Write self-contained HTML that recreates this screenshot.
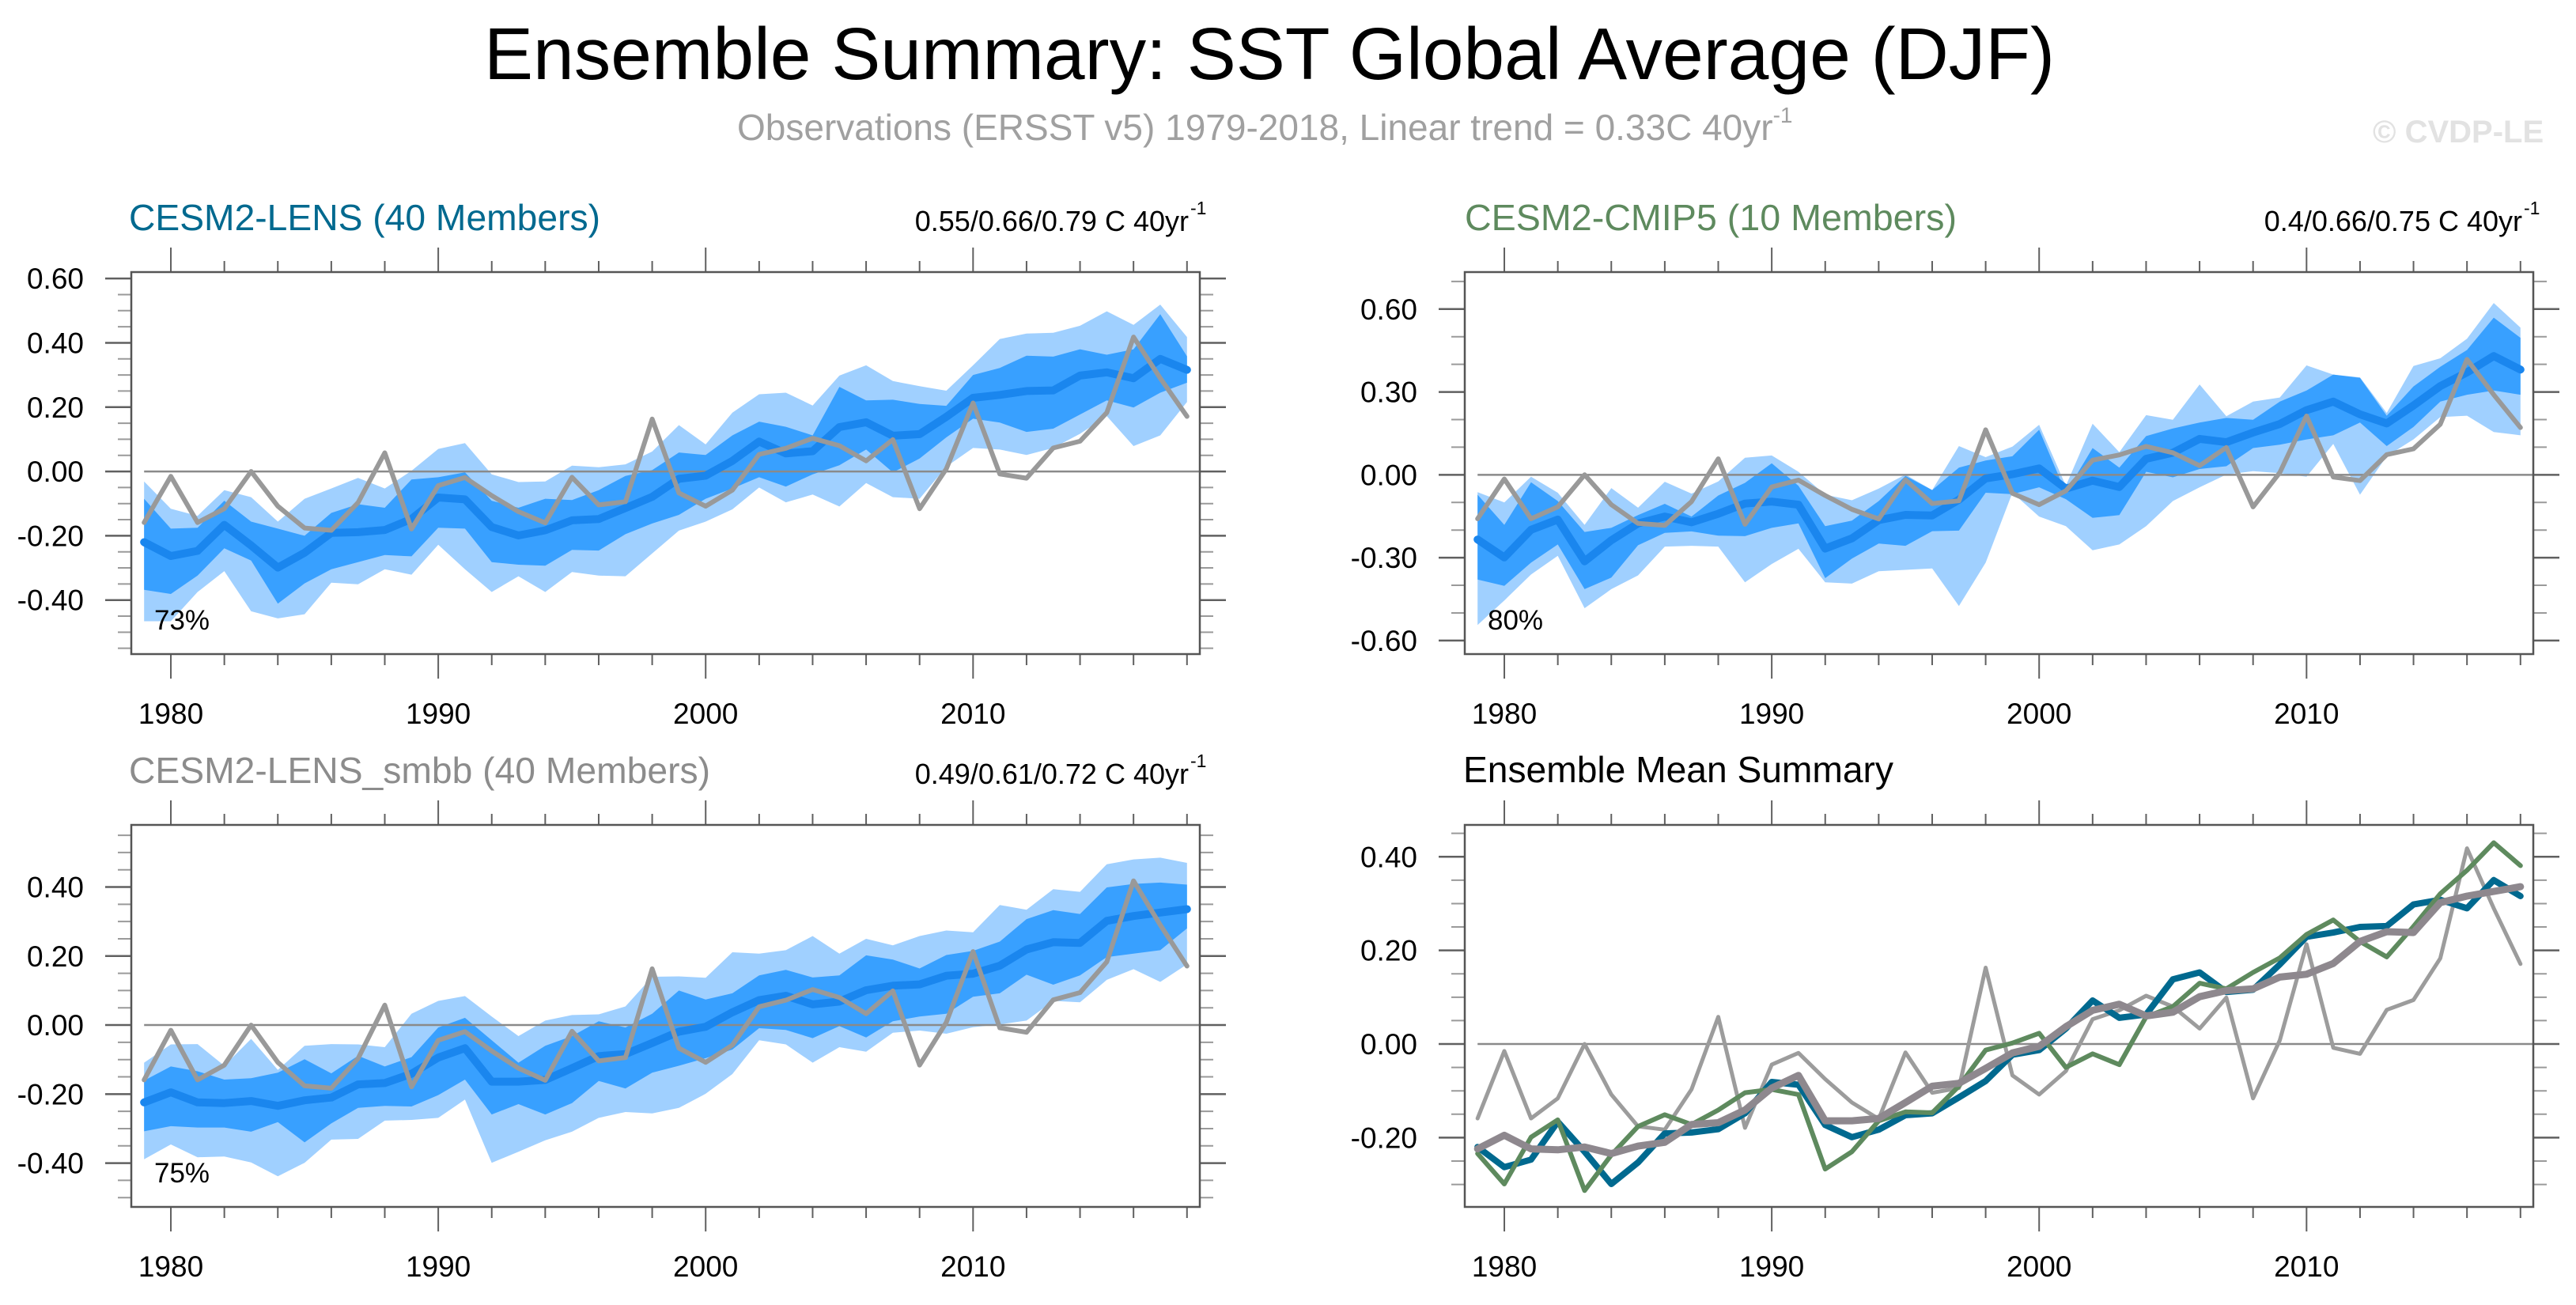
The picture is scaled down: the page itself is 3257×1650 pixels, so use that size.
<!DOCTYPE html>
<html><head><meta charset="utf-8"><style>
html,body{margin:0;padding:0;background:#fff;}
svg{display:block;font-family:"Liberation Sans",Arial,sans-serif;}
</style></head><body>
<svg id="chart" width="3257" height="1650" viewBox="0 0 3257 1650" xmlns="http://www.w3.org/2000/svg">
<rect width="3257" height="1650" fill="#fff"/>
<text x="612" y="100" font-size="93" fill="#000" textLength="1986" lengthAdjust="spacingAndGlyphs">Ensemble Summary: SST Global Average (DJF)</text>
<text x="932" y="177" font-size="46" fill="#a0a0a0">Observations (ERSST v5) 1979-2018, Linear trend = 0.33C 40yr<tspan font-size="28" dy="-22">-1</tspan></text>
<text x="3000" y="180" font-size="40" font-weight="bold" fill="#e2e2e2">© CVDP-LE</text>

<text x="163" y="291" font-size="46" fill="#00698f" textLength="596" lengthAdjust="spacingAndGlyphs">CESM2-LENS (40 Members)</text>
<text x="1503" y="292" font-size="36" fill="#000" text-anchor="end">0.55/0.66/0.79 C 40yr</text>
<text x="1505" y="271" font-size="23" fill="#000">-1</text>

<text x="1852" y="291" font-size="46" fill="#5e8a5e" textLength="622" lengthAdjust="spacingAndGlyphs">CESM2-CMIP5 (10 Members)</text>
<text x="3189" y="292" font-size="36" fill="#000" text-anchor="end">0.4/0.66/0.75 C 40yr</text>
<text x="3191" y="271" font-size="23" fill="#000">-1</text>

<text x="163" y="990" font-size="46" fill="#8c8c8c" textLength="735" lengthAdjust="spacingAndGlyphs">CESM2-LENS_smbb (40 Members)</text>
<text x="1503" y="991" font-size="36" fill="#000" text-anchor="end">0.49/0.61/0.72 C 40yr</text>
<text x="1505" y="970" font-size="23" fill="#000">-1</text>

<text x="1850" y="989" font-size="46" fill="#000" textLength="544" lengthAdjust="spacingAndGlyphs">Ensemble Mean Summary</text>

<g id="plots"></g>
</svg>
<script>
const years = [];
for (let y = 1979; y <= 2018; y++) years.push(y);
const xTickYears = [1980, 1990, 2000, 2010];

const obs = [-0.159,-0.015,-0.159,-0.116,0.0,-0.108,-0.176,-0.183,-0.097,0.058,-0.179,-0.044,-0.019,-0.075,-0.125,-0.160,-0.018,-0.104,-0.094,0.163,-0.067,-0.108,-0.058,0.053,0.072,0.103,0.080,0.033,0.099,-0.116,0.008,0.213,-0.008,-0.021,0.073,0.094,0.183,0.418,0.290,0.171];

const lensMean = [-0.220,-0.263,-0.247,-0.166,-0.230,-0.299,-0.253,-0.191,-0.189,-0.182,-0.148,-0.081,-0.087,-0.173,-0.199,-0.183,-0.152,-0.148,-0.114,-0.079,-0.023,-0.013,0.033,0.093,0.056,0.063,0.138,0.153,0.111,0.116,0.170,0.229,0.238,0.250,0.252,0.298,0.308,0.290,0.350,0.316];
const lensLightHi = [-0.031,-0.116,-0.138,-0.058,-0.080,-0.156,-0.085,-0.053,-0.020,-0.053,0.002,0.070,0.088,-0.009,-0.033,-0.031,0.018,0.013,0.022,0.062,0.144,0.084,0.183,0.240,0.245,0.205,0.298,0.330,0.281,0.265,0.251,0.330,0.412,0.429,0.431,0.453,0.498,0.456,0.519,0.418];
const lensLightLo = [-0.466,-0.466,-0.375,-0.310,-0.435,-0.457,-0.444,-0.346,-0.351,-0.304,-0.321,-0.228,-0.304,-0.375,-0.326,-0.375,-0.313,-0.324,-0.326,-0.255,-0.184,-0.156,-0.118,-0.050,-0.096,-0.072,-0.109,-0.036,-0.080,-0.085,0.015,0.073,0.068,0.051,0.073,0.117,0.172,0.079,0.112,0.216];
const lensDarkHi = [-0.085,-0.178,-0.175,-0.091,-0.156,-0.178,-0.200,-0.129,-0.102,-0.113,-0.025,-0.018,-0.003,-0.091,-0.113,-0.085,-0.089,-0.058,-0.014,0.004,0.059,0.051,0.112,0.155,0.139,0.112,0.263,0.221,0.223,0.210,0.204,0.300,0.322,0.360,0.357,0.380,0.363,0.380,0.489,0.358];
const lensDarkLo = [-0.368,-0.381,-0.324,-0.239,-0.277,-0.411,-0.348,-0.304,-0.282,-0.260,-0.264,-0.175,-0.178,-0.282,-0.290,-0.293,-0.244,-0.246,-0.195,-0.162,-0.135,-0.085,-0.053,-0.018,-0.047,-0.009,0.019,0.068,-0.003,0.040,0.106,0.164,0.152,0.123,0.133,0.177,0.221,0.199,0.245,0.276];

const cmipMean = [-0.234,-0.299,-0.199,-0.162,-0.313,-0.237,-0.176,-0.151,-0.172,-0.141,-0.104,-0.097,-0.108,-0.267,-0.230,-0.164,-0.145,-0.147,-0.090,-0.013,0.002,0.023,-0.050,-0.021,-0.044,0.058,0.080,0.130,0.118,0.153,0.184,0.234,0.265,0.219,0.186,0.251,0.321,0.371,0.430,0.381];
const cmipLightHi = [-0.063,-0.100,-0.007,-0.065,-0.181,-0.048,-0.119,-0.025,-0.068,-0.024,0.062,0.070,0.011,-0.072,-0.092,-0.050,0.001,-0.055,0.104,0.064,0.102,0.181,-0.040,0.185,0.082,0.216,0.199,0.327,0.212,0.265,0.280,0.396,0.363,0.353,0.224,0.394,0.422,0.493,0.622,0.533];
const cmipLightLo = [-0.544,-0.455,-0.361,-0.293,-0.483,-0.414,-0.364,-0.260,-0.257,-0.260,-0.389,-0.323,-0.268,-0.389,-0.394,-0.349,-0.344,-0.339,-0.475,-0.318,-0.065,-0.151,-0.186,-0.273,-0.252,-0.186,-0.095,-0.045,0.001,0.013,0.006,-0.007,0.112,-0.072,0.067,0.128,0.209,0.214,0.155,0.143];
const cmipDarkHi = [-0.072,-0.181,-0.027,-0.095,-0.207,-0.192,-0.146,-0.105,-0.151,-0.075,-0.029,0.042,-0.040,-0.186,-0.166,-0.095,-0.004,-0.055,0.026,0.052,0.067,0.163,-0.065,0.097,0.026,0.140,0.168,0.189,0.206,0.199,0.265,0.305,0.363,0.351,0.214,0.320,0.391,0.452,0.569,0.496];
const cmipDarkLo = [-0.379,-0.402,-0.318,-0.252,-0.414,-0.372,-0.255,-0.210,-0.205,-0.220,-0.222,-0.192,-0.176,-0.374,-0.303,-0.249,-0.257,-0.204,-0.202,-0.065,-0.070,-0.045,-0.088,-0.156,-0.146,0.011,-0.009,0.021,0.031,0.097,0.109,0.128,0.143,0.189,0.104,0.173,0.265,0.290,0.305,0.290];

const smbbMean = [-0.224,-0.195,-0.224,-0.226,-0.220,-0.234,-0.218,-0.210,-0.172,-0.168,-0.141,-0.094,-0.067,-0.164,-0.164,-0.159,-0.125,-0.090,-0.084,-0.052,-0.019,-0.005,0.037,0.072,0.085,0.060,0.068,0.101,0.114,0.118,0.143,0.149,0.172,0.219,0.240,0.238,0.302,0.316,0.326,0.336];
const smbbLightHi = [-0.109,-0.056,-0.055,-0.118,-0.040,-0.130,-0.060,-0.055,-0.056,-0.064,0.033,0.070,0.084,0.025,-0.032,0.013,0.029,0.031,0.054,0.140,0.141,0.137,0.211,0.207,0.217,0.258,0.207,0.250,0.231,0.258,0.274,0.269,0.348,0.334,0.394,0.386,0.466,0.480,0.485,0.470];
const smbbLightLo = [-0.389,-0.346,-0.383,-0.381,-0.398,-0.438,-0.399,-0.332,-0.330,-0.277,-0.275,-0.269,-0.216,-0.399,-0.367,-0.334,-0.309,-0.269,-0.252,-0.256,-0.240,-0.199,-0.142,-0.044,-0.056,-0.109,-0.064,-0.077,-0.022,-0.016,-0.025,-0.006,0.002,0.013,0.070,0.066,0.131,0.162,0.125,0.176];
const smbbDarkHi = [-0.161,-0.120,-0.134,-0.158,-0.154,-0.138,-0.099,-0.140,-0.089,-0.120,-0.093,-0.007,0.021,-0.044,-0.109,-0.060,-0.032,0.011,-0.007,0.033,0.100,0.074,0.092,0.144,0.160,0.138,0.144,0.202,0.190,0.164,0.203,0.215,0.242,0.307,0.333,0.322,0.399,0.409,0.413,0.407];
const smbbDarkLo = [-0.308,-0.293,-0.297,-0.297,-0.309,-0.281,-0.340,-0.285,-0.240,-0.234,-0.236,-0.203,-0.158,-0.259,-0.229,-0.259,-0.226,-0.162,-0.184,-0.138,-0.118,-0.096,-0.071,-0.009,-0.014,-0.038,-0.003,-0.036,0.011,0.025,0.033,0.082,0.092,0.146,0.117,0.144,0.197,0.207,0.217,0.280];

const p1TickValues = [-0.4,-0.2,0,0.2,0.4,0.6];
const p1TickLabels = ["-0.40","-0.20","0.00","0.20","0.40","0.60"];
const p2TickValues = [-0.6,-0.3,0,0.3,0.6];
const p2TickLabels = ["-0.60","-0.30","0.00","0.30","0.60"];
const p3TickValues = [-0.4,-0.2,0,0.2,0.4];
const p3TickLabels = ["-0.40","-0.20","0.00","0.20","0.40"];
const p4TickValues = [-0.2,0,0.2,0.4];
const p4TickLabels = ["-0.20","0.00","0.20","0.40"];

const NS = "http://www.w3.org/2000/svg";
const root = document.getElementById("plots");
function mk(tag, attrs, parent) {
  const e = document.createElementNS(NS, tag);
  for (const k in attrs) e.setAttribute(k, attrs[k]);
  (parent || root).appendChild(e);
  return e;
}

function drawPanel(cfg) {
  const g = mk("g", {});
  
  
  const w = cfg.x1 - cfg.x0;
  const xs = yr => cfg.x0 + w * (0.012 + (yr - 1979) / 39 * 0.976);
  const ys = v => cfg.y1 - (v - cfg.ymin) / (cfg.ymax - cfg.ymin) * (cfg.y1 - cfg.y0);
  const tc = "#606060";
  for (let yr = 1980; yr <= 2018; yr += 2) {
    const major = yr % 10 === 0;
    const L = major ? 31 : 14;
    const t1 = mk("line", {x1: xs(yr), x2: xs(yr), y1: cfg.y0 - L, y2: cfg.y0, stroke: tc, "stroke-width": 2}, g);
    
    
    const t2 = mk("line", {x1: xs(yr), x2: xs(yr), y1: cfg.y1, y2: cfg.y1 + L, stroke: tc, "stroke-width": 2}, g);
    
    
  }
  xTickYears.forEach(yr => {
    const t = mk("text", {x: xs(yr), y: cfg.y1 + 88, "font-size": 37, "text-anchor": "middle", fill: "#000"}, g);
    t.textContent = String(yr);
    
    
  });
  const st = cfg.minorStep;
  for (let k = Math.ceil(cfg.ymin / st - 1e-6); k <= Math.floor(cfg.ymax / st + 1e-6); k++) {
    const v = k * st;
    const isMajor = cfg.tickValues.some(m => Math.abs(m - v) < 1e-6);
    if (isMajor) continue;
    const a = mk("line", {x1: cfg.x0 - 17, x2: cfg.x0, y1: ys(v), y2: ys(v), stroke: "#9a9a9a", "stroke-width": 2}, g);
    
    
    const b = mk("line", {x1: cfg.x1, x2: cfg.x1 + 17, y1: ys(v), y2: ys(v), stroke: "#9a9a9a", "stroke-width": 2}, g);
    
    
  }
  cfg.tickValues.forEach((v, i) => {
    const a = mk("line", {x1: cfg.x0 - 33, x2: cfg.x0, y1: ys(v), y2: ys(v), stroke: tc, "stroke-width": 2.5}, g);
    
    
    const b = mk("line", {x1: cfg.x1, x2: cfg.x1 + 33, y1: ys(v), y2: ys(v), stroke: tc, "stroke-width": 2.5}, g);
    
    
    const t = mk("text", {x: cfg.x0 - 60, y: ys(v) + 13, "font-size": 37, "text-anchor": "end", fill: "#000"}, g);
    t.textContent = cfg.tickLabels[i];
    
    
  });
  const poly = (hi, lo, color, name) => {
    const pts = [];
    years.forEach((yr, i) => pts.push(xs(yr).toFixed(1) + "," + ys(hi[i]).toFixed(1)));
    for (let i = years.length - 1; i >= 0; i--) pts.push(xs(years[i]).toFixed(1) + "," + ys(lo[i]).toFixed(1));
    const p = mk("polygon", {points: pts.join(" "), fill: color}, g);
    
    
  };
  const line = (vals, color, width, name) => {
    const d = vals.map((v, i) => (i ? "L" : "M") + xs(years[i]).toFixed(1) + "," + ys(v).toFixed(1)).join("");
    const p = mk("path", {d: d, fill: "none", stroke: color, "stroke-width": width, "stroke-linejoin": "round", "stroke-linecap": "round"}, g);
    
    
  };
  if (cfg.bands) {
    poly(cfg.bands[0], cfg.bands[1], "#a0d0ff", "outer-spread-band");
    poly(cfg.bands[2], cfg.bands[3], "#38a0ff", "inner-spread-band");
  }
  const z = mk("line", {x1: xs(1979), x2: cfg.x1, y1: ys(0), y2: ys(0), stroke: "#8a8a8a", "stroke-width": 2.5}, g);
  
  
  cfg.lines.forEach(l => line(l[0], l[1], l[2], l[3]));
  const fr = mk("rect", {x: cfg.x0, y: cfg.y0, width: w, height: cfg.y1 - cfg.y0, fill: "none", stroke: "#555", "stroke-width": 2.5}, g);
  
  
  if (cfg.pct) {
    const t = mk("text", {x: cfg.x0 + 29, y: cfg.y1 - 31, "font-size": 35, fill: "#000"}, g);
    t.textContent = cfg.pct;
    
    
  }
}

drawPanel({name: "panel-cesm2-lens", x0: 166, x1: 1517, y0: 344, y1: 827, ymin: -0.568, ymax: 0.62, minorStep: 0.05,
  tickValues: p1TickValues, tickLabels: p1TickLabels, pct: "73%",
  bands: [lensLightHi, lensLightLo, lensDarkHi, lensDarkLo],
  lines: [[lensMean, "#1a86ee", 10, "ensemble-mean-line"], [obs, "#999999", 6, "observations-line"]]});
drawPanel({name: "panel-cesm2-cmip5", x0: 1852, x1: 3203, y0: 344, y1: 827, ymin: -0.649, ymax: 0.734, minorStep: 0.1,
  tickValues: p2TickValues, tickLabels: p2TickLabels, pct: "80%",
  bands: [cmipLightHi, cmipLightLo, cmipDarkHi, cmipDarkLo],
  lines: [[cmipMean, "#1a86ee", 10, "ensemble-mean-line"], [obs, "#999999", 6, "observations-line"]]});
drawPanel({name: "panel-cesm2-lens-smbb", x0: 166, x1: 1517, y0: 1043, y1: 1526, ymin: -0.527, ymax: 0.58, minorStep: 0.05,
  tickValues: p3TickValues, tickLabels: p3TickLabels, pct: "75%",
  bands: [smbbLightHi, smbbLightLo, smbbDarkHi, smbbDarkLo],
  lines: [[smbbMean, "#1a86ee", 10, "ensemble-mean-line"], [obs, "#999999", 6, "observations-line"]]});
drawPanel({name: "panel-ensemble-mean-summary", x0: 1852, x1: 3203, y0: 1043, y1: 1526, ymin: -0.348, ymax: 0.468, minorStep: 0.05,
  tickValues: p4TickValues, tickLabels: p4TickLabels, pct: null, bands: null,
  lines: [[obs, "#9c9c9c", 5, "observations-line"], [lensMean, "#00698f", 8, "cesm2-lens-mean-line"], [cmipMean, "#5e8a5e", 6, "cesm2-cmip5-mean-line"], [smbbMean, "#8e888e", 9, "cesm2-lens-smbb-mean-line"]]});
</script>
</body></html>
